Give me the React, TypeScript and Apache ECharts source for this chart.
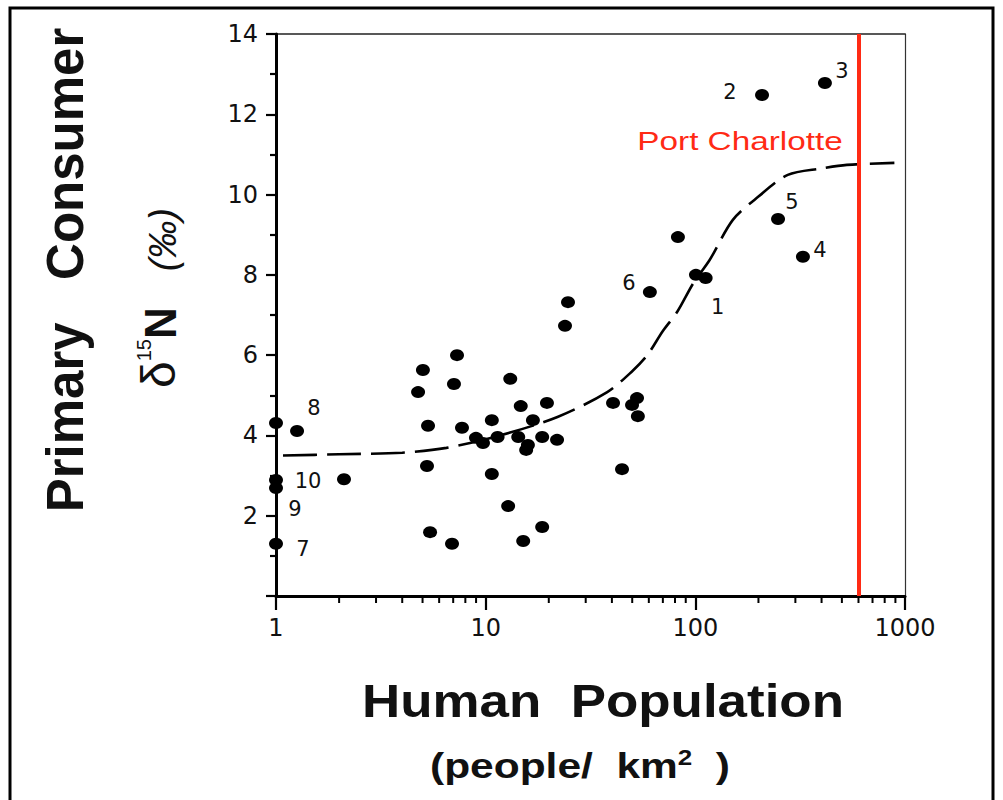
import React, { useEffect, useRef } from 'react';
import * as echarts from 'echarts';

// Human population density (people / km2) for each site
const popDensity = [
  1, 1.26, 1, 1, 1, 2.11, 4.76, 5.02, 5.31, 5.25, 5.43, 6.91, 7.06, 7.3, 7.71, 8.99,
  9.71, 10.7, 10.7, 11.4, 12.8, 13.1, 14.3, 14.7, 15.1, 15.6, 15.9, 16.8, 18.6, 18.6,
  19.6, 21.9, 23.9, 24.7, 40.5, 44.7, 49.9, 52.7, 53.2, 60.7, 82.6, 100.7, 112, 208,
  248, 326, 415,
];
// Primary consumer delta 15N (per mil)
const d15N = [
  4.31, 4.11, 2.89, 2.69, 1.3, 2.91, 5.08, 5.63, 4.24, 3.24, 1.59, 1.3, 5.28, 6.0, 4.19,
  3.94, 3.81, 4.38, 3.04, 3.96, 2.24, 5.41, 3.96, 4.73, 1.37, 3.64, 3.76, 4.38, 3.96,
  1.72, 4.81, 3.89, 6.73, 7.32, 4.81, 3.16, 4.76, 4.93, 4.48, 7.57, 8.94, 8.0, 7.92,
  12.48, 9.39, 8.45, 12.78,
];
// Site numbers shown beside some points
const siteLabels = [
  '', '8', '10', '9', '7', '', '', '', '', '', '', '', '', '', '', '', '', '', '', '',
  '', '', '', '', '', '', '', '', '', '', '', '', '', '', '', '', '', '', '', '6',
  '', '', '1', '2', '5', '4', '3',
];
// Fitted curve (dashed)
const curveX = [1.08, 2, 4, 6.5, 11.7, 22, 38, 50, 59, 70, 82, 98, 117, 151, 200, 276, 400, 528, 890];
const curveY = [3.5, 3.53, 3.57, 3.69, 4.0, 4.46, 5.08, 5.6, 6.0, 6.6, 7.08, 7.8, 8.37, 9.37, 9.95, 10.49, 10.65, 10.74, 10.79];
// Port Charlotte population density
const portCharlotteDensity = 600;
const portCharlotteName = 'Port Charlotte';
// Axis ticks
const xMin = 1;
const xMax = 1000;
const yMin = 0;
const yMax = 14;
const yInterval = 2;
const xMinorTicks = [2, 3, 4, 5, 6, 7, 8, 9, 20, 30, 40, 50, 60, 70, 80, 90, 200, 300, 400, 500, 600, 700, 800, 900];

// label offsets (layout only)
const labelOffset: Record<string, [number, number]> = {
  '8': [17, -23],
  '10': [32, 1],
  '9': [19, 21],
  '7': [27, 5],
  '6': [-21, -9],
  '1': [12, 29],
  '2': [-32, -3],
  '3': [17, -12],
  '5': [14, -17],
  '4': [17, -7],
};

const SANS = '"Liberation Sans", Arial, Helvetica, sans-serif';
const TICKFONT = '"DejaVu Sans", ' + SANS;

export default function App() {
  const ref = useRef<HTMLDivElement>(null);
  useEffect(() => {
    if (!ref.current) return;
    const chart = echarts.init(ref.current, undefined, { renderer: 'svg' });

    const scatterData = popDensity.map((x, i) => {
      const lab = siteLabels[i];
      const item: any = { value: [x, d15N[i]] };
      if (lab) {
        item.label = {
          show: true,
          formatter: lab,
          position: 'inside',
          offset: labelOffset[lab] || [0, 0],
          fontSize: 21,
          fontFamily: TICKFONT,
          color: '#111',
        };
      }
      return item;
    });

    const option: any = {
      animation: false,
      backgroundColor: '#fff',
      grid: {
        left: 276,
        right: 98,
        top: 34,
        bottom: 204,
        show: false,
      },
      xAxis: [
        {
          type: 'log',
          logBase: 10,
          min: xMin,
          max: xMax,
          position: 'bottom',
          axisLine: { show: true, onZero: false, lineStyle: { color: '#000', width: 3 } },
          axisTick: { show: true, inside: false, length: 14, lineStyle: { color: '#000', width: 2.2 } },
          splitLine: { show: false },
          axisLabel: {
            margin: 20,
            fontSize: 24,
            fontFamily: TICKFONT,
            color: '#111',
            formatter: (v: number) => String(Math.round(v)),
          },
          z: 3,
        },
        {
          type: 'log',
          logBase: 10,
          min: xMin,
          max: xMax,
          position: 'top',
          axisLine: { show: true, onZero: false, lineStyle: { color: '#222', width: 1.5 } },
          axisTick: { show: false },
          axisLabel: { show: false },
          splitLine: { show: false },
        },
      ],
      yAxis: [
        {
          type: 'value',
          min: yMin,
          max: yMax,
          interval: yInterval,
          position: 'left',
          axisLine: { show: true, onZero: false, lineStyle: { color: '#000', width: 3 } },
          axisTick: { show: true, inside: false, length: 10, lineStyle: { color: '#000', width: 2.2 } },
          minorTick: { show: true, splitNumber: 2, length: 6, lineStyle: { color: '#000', width: 2.2 } },
          splitLine: { show: false },
          axisLabel: {
            margin: 18,
            showMinLabel: false,
            fontSize: 24,
            fontFamily: TICKFONT,
            color: '#111',
          },
          z: 3,
        },
        {
          type: 'value',
          min: yMin,
          max: yMax,
          interval: yInterval,
          position: 'right',
          axisLine: { show: true, onZero: false, lineStyle: { color: '#333', width: 1.2 } },
          axisTick: { show: false },
          axisLabel: { show: false },
          splitLine: { show: false },
        },
      ],
      series: [
        {
          type: 'line',
          data: curveX.map((x, i) => [x, curveY[i]]),
          smooth: 0.3,
          showSymbol: false,
          symbol: 'none',
          clip: false,
          lineStyle: { color: '#000', width: 2.6, type: [34, 10] },
          z: 3,
        },
        {
          type: 'scatter',
          data: scatterData,
          symbol: 'circle',
          symbolSize: [14, 12],
          itemStyle: { color: '#000', opacity: 1 },
          clip: false,
          z: 4,
          markLine: {
            silent: true,
            symbol: 'none',
            label: { show: false },
            lineStyle: { color: '#ff2a14', width: 4, type: 'solid', opacity: 1 },
            data: [{ xAxis: portCharlotteDensity }],
          },
        },
        {
          type: 'custom',
          clip: false,
          silent: true,
          data: xMinorTicks.map((v) => [v, yMin]),
          renderItem: (_params: any, api: any) => {
            const p = api.coord([api.value(0), api.value(1)]);
            return {
              type: 'line',
              shape: { x1: p[0], y1: p[1], x2: p[0], y2: p[1] + 7 },
              style: { stroke: '#000', lineWidth: 2 },
            };
          },
          z: 5,
        },
      ],
      graphic: [
        {
          type: 'rect',
          shape: { x: 10, y: 8, width: 983, height: 830 },
          style: { fill: 'none', stroke: '#000', lineWidth: 3 },
          z: 100,
        },
        {
          type: 'text',
          x: 65,
          y: 270,
          rotation: Math.PI / 2,
          style: {
            text: 'Primary   Consumer',
            font: 'bold 51px ' + SANS,
            fill: '#111',
            align: 'center',
            verticalAlign: 'middle',
            textAlign: 'center',
            textVerticalAlign: 'middle',
          },
        },
        {
          type: 'text',
          x: 158,
          y: 298,
          rotation: Math.PI / 2,
          style: {
            text: '{d|δ}{s|15}{n|N}{sp| }{p|(‰)}',
            fill: '#111',
            align: 'center',
            verticalAlign: 'middle',
            textAlign: 'center',
            textVerticalAlign: 'middle',
            rich: {
              d: { fontSize: 48, fontFamily: SANS, fill: '#111', color: '#111', verticalAlign: 'bottom' },
              s: { fontSize: 20, fontFamily: SANS, fill: '#111', color: '#111', verticalAlign: 'top' },
              n: { fontSize: 44, fontWeight: 'bold', fontFamily: SANS, fill: '#111', color: '#111', verticalAlign: 'bottom' },
              sp: { fontSize: 30, width: 36, fontFamily: SANS },
              p: { fontSize: 38, fontStyle: 'italic', fontFamily: SANS, fill: '#111', color: '#111', verticalAlign: 'bottom' },
            },
          },
        },
        {
          type: 'text',
          x: 603,
          y: 701,
          scaleX: 1.15,
          style: {
            text: 'Human  Population',
            font: 'bold 46px ' + SANS,
            fill: '#111',
            align: 'center',
            verticalAlign: 'middle',
            textAlign: 'center',
            textVerticalAlign: 'middle',
          },
        },
        {
          type: 'text',
          x: 580,
          y: 765,
          scaleX: 1.18,
          style: {
            text: '(people/  km{sup|2}  )',
            font: 'bold 36px ' + SANS,
            fill: '#111',
            align: 'center',
            verticalAlign: 'middle',
            textAlign: 'center',
            textVerticalAlign: 'middle',
            rich: {
              sup: { fontSize: 22, fontWeight: 'bold', fontFamily: SANS, fill: '#111', color: '#111', verticalAlign: 'top', padding: [0, 0, 16, 0] },
            },
          },
        },
        {
          type: 'text',
          x: 740,
          y: 141,
          scaleX: 1.28,
          style: {
            text: portCharlotteName,
            font: '26px ' + SANS,
            fill: '#ff2a14',
            align: 'center',
            verticalAlign: 'middle',
            textAlign: 'center',
            textVerticalAlign: 'middle',
          },
        },
      ],
    };
    chart.setOption(option);
    return () => chart.dispose();
  }, []);
  return (
    <div
      ref={ref}
      style={{ position: 'fixed', left: 0, top: 0, width: 1003, height: 800, background: '#fff' }}
    />
  );
}
